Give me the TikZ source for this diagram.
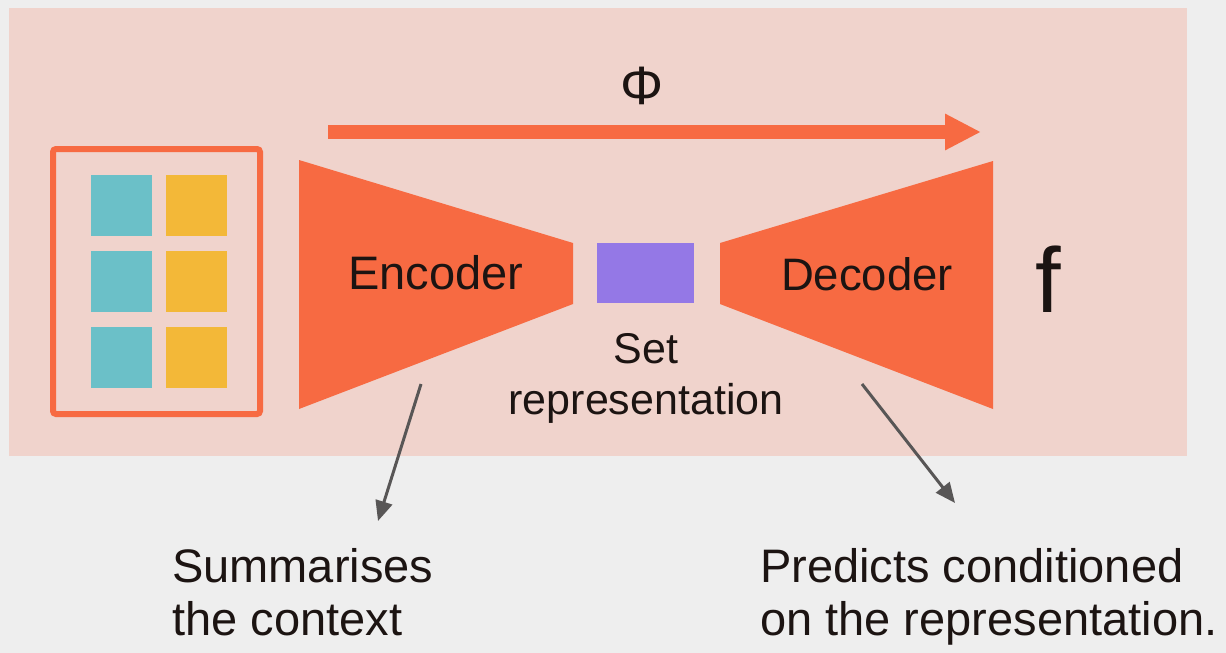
\documentclass[tikz,border=0pt]{standalone}
\usepackage{fontspec}
\setmainfont{Liberation Sans}
\usetikzlibrary{arrows.meta}
\definecolor{pagebg}{HTML}{EEEEEE}
\definecolor{panel}{HTML}{F0D3CC}
\definecolor{orangered}{HTML}{F76A42}
\definecolor{tealsq}{HTML}{6BC0C8}
\definecolor{yellowsq}{HTML}{F3B838}
\definecolor{violet}{HTML}{9478E6}
\definecolor{ink}{HTML}{1C1412}
\definecolor{pointer}{HTML}{585656}
\tikzset{
  cell/.style={minimum width=61pt,minimum height=61pt,inner sep=0pt,draw=none},
  label/.style={text=ink,inner sep=0pt,font=\fontsize{45.5}{50}\selectfont},
  caption/.style={text=ink,inner sep=0pt,align=left,font=\fontsize{47}{53}\selectfont},
  pointerarrow/.style={draw=pointer,line width=3pt,-{Triangle[length=20pt,width=17pt]}}
}
\begin{document}
\begin{tikzpicture}[x=1pt,y=-1pt]
  % page and panel
  \fill[pagebg] (0,0) rectangle (1226,653);
  \useasboundingbox (0,0) rectangle (1226,653);
  \fill[panel] (9,8) rectangle (1187,456);

  % context set
  \draw[orangered,line width=6pt,rounded corners=3pt] (53,149) rectangle (260,414);
  \node[cell,fill=tealsq]   (c11) at (121.5,205.5) {};
  \node[cell,fill=yellowsq] (c12) at (196.5,205.5) {};
  \node[cell,fill=tealsq]   (c21) at (121.5,281) {};
  \node[cell,fill=yellowsq] (c22) at (196.5,281) {};
  \node[cell,fill=tealsq]   (c31) at (121.5,357.5) {};
  \node[cell,fill=yellowsq] (c32) at (196.5,357.5) {};

  % Phi arrow
  \node[label,font=\fontsize{54}{60}\selectfont] (phi) at (642,86) {Φ};
  \coordinate (phiStart) at (328,132);
  \coordinate (phiEnd) at (981,132);
  \draw[orangered,line width=14pt,-{Triangle[length=36pt,width=34pt]}] (phiStart) -- (phiEnd);

  % encoder and decoder
  \fill[orangered] (299,160) -- (573,243) -- (573,304) -- (299,409) -- cycle;
  \fill[orangered] (720,243) -- (993,161) -- (993,409) -- (720,304) -- cycle;
  \node[label,font=\fontsize{47}{50}\selectfont] (enc) at (436,273) {Encoder};
  \node[label] (dec) at (867,274) {Decoder};

  % set representation
  \node[fill=violet,minimum width=97pt,minimum height=60pt,inner sep=0pt] (rep) at (645.5,273) {};
  \node[label,font=\fontsize{43}{51}\selectfont,align=center] (replabel) at (646,378)
    {Set\\representation};

  % f
  \node[label,font=\fontsize{92}{100}\selectfont] (f) at (1048,279) {f};

  % captions
  \node[caption,anchor=north west] (sum) at (172,548) {Summarises\\the context};
  \node[caption,anchor=north west] (pred) at (760,548) {Predicts conditioned\\on the representation.};

  % pointers
  \coordinate (encTail) at (421,384);
  \coordinate (sumTip) at (378,521);
  \coordinate (decTail) at (862,384);
  \coordinate (predTip) at (955,503);
  \draw[pointerarrow] (encTail) -- (sumTip);
  \draw[pointerarrow] (decTail) -- (predTip);
\end{tikzpicture}
\end{document}
